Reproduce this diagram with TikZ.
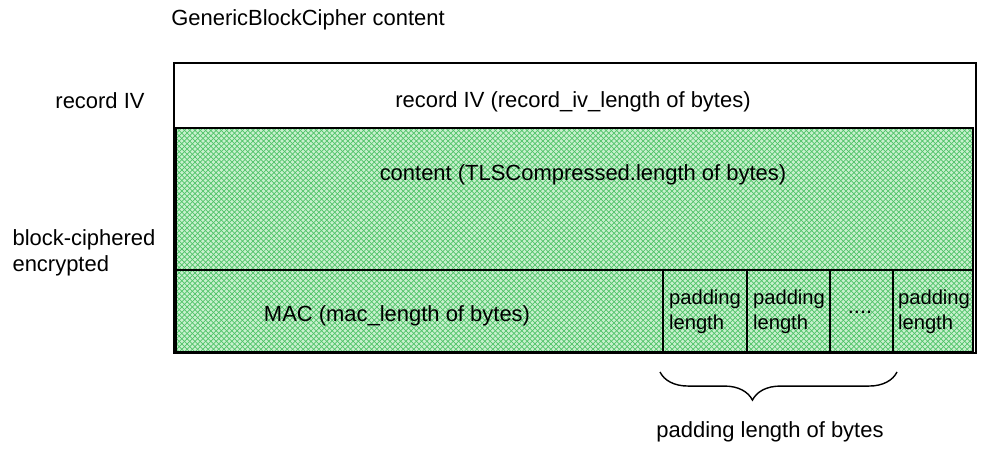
\documentclass[tikz,border=0pt]{standalone}
\usepackage{fontspec}
\setmainfont{Liberation Sans}
\usetikzlibrary{patterns, decorations.pathreplacing}
\usetikzlibrary{positioning}

\definecolor{hatchgreen}{RGB}{80,195,105}
\definecolor{softgreen}{RGB}{200,240,206}

\begin{document}
\begin{tikzpicture}[x=0.02cm, y=-0.02cm, thick,
    every node/.style={font=\fontsize{12.5}{14.5}\selectfont},
    hatch/.style={pattern color=hatchgreen},
    padcell/.style={align=left, font=\fontsize{11.5}{14.5}\selectfont}]
    \useasboundingbox (0,0) rectangle (990,452);
    % green block
    \fill[softgreen] (176,128) rectangle (973,352);
    \fill[hatch, pattern=north east lines] (176,128) rectangle (973,352);
    \fill[hatch, pattern=north west lines] (176,128) rectangle (973,352);
    \draw (174,63) rectangle (976,353);
    \draw (176,128) rectangle (973,352);
    \draw (176,270) -- (973,270);
    \foreach \x in {663,747,830,893}
        \draw[semithick] (\x,270) -- (\x,352);
    \node (title) at (308,20) {GenericBlockCipher content};
    \node (ivlabel) at (100,101) {record IV};
    \node[align=left, anchor=west] (enc) at (6,253) {block-ciphered\\encrypted};
    \node (iv) at (573,102) {record IV (record\_iv\_length of bytes)};
    \node (content) at (583,175) {content (TLSCompressed.length of bytes)};
    \node (mac) at (397,316) {MAC (mac\_length of bytes)};
    \node[padcell] (pad1) at (705,312) {padding\\length};
    \node[padcell] (pad2) at (789,312) {padding\\length};
    \node (dots) at (860,312) {....};
    \node[padcell] (pad3) at (934,312) {padding\\length};
    \coordinate (bl) at (660,372);
    \coordinate (br) at (897,372);
    \draw[decorate, decoration={brace, mirror, amplitude=16pt, aspect=0.39}] (bl) -- (br);
    \node (bytes) at (770,432) {padding length of bytes};
\end{tikzpicture}
\end{document}
